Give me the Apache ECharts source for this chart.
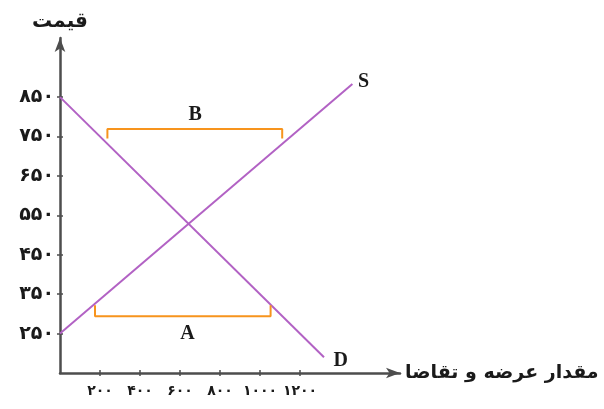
<!DOCTYPE html>
<html>
<head>
<meta charset="utf-8">
<script src="https://cdn.jsdelivr.net/npm/echarts@6/dist/echarts.min.js"></script>
<style>
  html, body { margin: 0; padding: 0; background: #fff; }
  #chart { width: 604px; height: 409px; }
</style>
</head>
<body>
<div id="chart"></div>
<script>
// عرضه و تقاضا
var priceTicks = [250, 350, 450, 550, 650, 750, 850];
var qtyTicks = [200, 400, 600, 800, 1000, 1200];

// منحنی تقاضا و عرضه [مقدار, قیمت]
var demandLine = [[0, 850], [1320, 190]];
var supplyLine = [[0, 250], [1462, 883]];

// مازاد عرضه (B) و مازاد تقاضا (A)
var bracketB = [[237, 745], [237, 769], [1111, 769], [1111, 745]];
var bracketA = [[175, 322], [175, 294], [1053, 294], [1053, 322]];

var markNames = ['S', 'D', 'B', 'A'];
var markPos = [[1518, 890], [1404, 180], [676, 806], [637, 250]];

var faDigits = '۰۱۲۳۴۵۶۷۸۹';
function toFa(v) {
  return String(v).replace(/[0-9]/g, function (d) { return faDigits[+d]; });
}

var axisColor = '#4d4d4d';
var textColor = '#1a1a1a';
var purple = '#b262c4';
var orange = '#f7941d';

var myChart = echarts.init(document.getElementById('chart'));
var option = {
  animation: false,
  grid: { left: 60, top: 38, right: 204, bottom: 36 },
  xAxis: [{
    type: 'value',
    min: 0,
    max: 1700,
    name: 'مقدار عرضه و تقاضا',
    nameLocation: 'end',
    nameGap: 5,
    nameTextStyle: { color: textColor, fontSize: 19, fontWeight: 'bold', fontFamily: 'DejaVu Sans', verticalAlign: 'middle' },
    splitLine: { show: false },
    axisLine: { lineStyle: { color: axisColor, width: 2.5 }, symbol: ['none', 'arrow'], symbolSize: [8, 14] },
    axisTick: { show: true, inside: false, length: 3, customValues: qtyTicks, lineStyle: { color: axisColor, width: 1.5 } },
    axisLabel: {
      customValues: qtyTicks, margin: 11, color: textColor, fontSize: 14, fontWeight: 'bold', fontFamily: 'DejaVu Sans',
      formatter: function (v) { return toFa(v); }
    }
  }, {
    type: 'value', min: 0, max: 1700, position: 'bottom',
    splitLine: { show: false }, axisLine: { show: false }, axisLabel: { show: false },
    axisTick: { show: true, inside: true, length: 3, customValues: qtyTicks, lineStyle: { color: axisColor, width: 1.5 } }
  }],
  yAxis: [{
    type: 'value',
    min: 150,
    max: 1000,
    name: 'قیمت',
    nameLocation: 'end',
    nameGap: 6,
    nameTextStyle: { color: textColor, fontSize: 20, fontWeight: 'bold', fontFamily: 'DejaVu Sans', align: 'center' },
    splitLine: { show: false },
    axisLine: { lineStyle: { color: axisColor, width: 2.5 }, symbol: ['none', 'arrow'], symbolSize: [8, 14] },
    axisTick: { show: true, inside: false, length: 3, customValues: priceTicks, lineStyle: { color: axisColor, width: 1.5 } },
    axisLabel: {
      customValues: priceTicks, margin: 6, color: textColor, fontSize: 19, fontWeight: 'bold', fontFamily: 'DejaVu Sans',
      formatter: function (v) { return toFa(v); }
    }
  }, {
    type: 'value', min: 150, max: 1000, position: 'left',
    splitLine: { show: false }, axisLine: { show: false }, axisLabel: { show: false },
    axisTick: { show: true, inside: true, length: 3, customValues: priceTicks, lineStyle: { color: axisColor, width: 1.5 } }
  }],
  series: [
    { type: 'line', data: demandLine, symbol: 'none', lineStyle: { color: purple, width: 2 } },
    { type: 'line', data: supplyLine, symbol: 'none', lineStyle: { color: purple, width: 2 } },
    { type: 'line', data: bracketB, symbol: 'none', lineStyle: { color: orange, width: 2 } },
    { type: 'line', data: bracketA, symbol: 'none', lineStyle: { color: orange, width: 2 } },
    {
      type: 'scatter',
      symbolSize: 0,
      itemStyle: { opacity: 1 },
      data: markNames.map(function (n, i) { return { name: n, value: markPos[i] }; }),
      label: {
        show: true, position: 'inside', formatter: '{b}', opacity: 1,
        color: textColor, fontSize: 20, fontWeight: 'bold', fontFamily: 'Liberation Serif'
      }
    }
  ]
};
myChart.setOption(option);
</script>
</body>
</html>
